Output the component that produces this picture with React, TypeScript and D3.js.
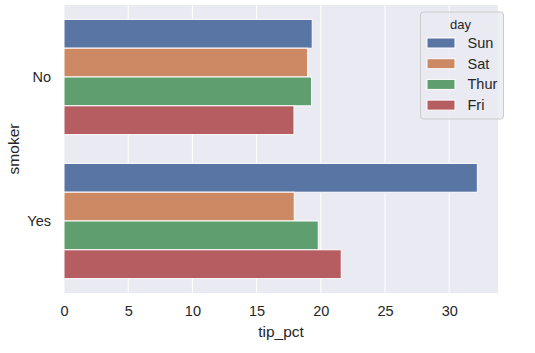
import { useEffect, useRef } from "react";
import * as d3 from "d3";

const smokers = ["No", "Yes"];
const days = ["Sun", "Sat", "Thur", "Fri"];
const dayColors = ["#5875a4", "#cc8963", "#5f9e6e", "#b55d60"];
// tip_pct by smoker, in the order of `days`
const tipNo = [19.33, 18.97, 19.28, 17.91];
const tipYes = [32.19, 17.93, 19.8, 21.59];
const xTicks = [0, 5, 10, 15, 20, 25, 30];

const App = () => {
    const svgRef = useRef<SVGSVGElement>(null);

    useEffect(() => {
        const W = 535;
        const H = 353;
        const margin = { top: 5, right: 37, bottom: 60, left: 64 };
        const width = W - margin.left - margin.right;
        const height = H - margin.top - margin.bottom;
        const font = "'Liberation Sans', Arial, sans-serif";

        const root = d3.select(svgRef.current);
        root.selectAll("*").remove();
        root.attr("width", W).attr("height", H);

        const svg = root
            .append("g")
            .attr("transform", `translate(${margin.left},${margin.top})`);

        const values = [tipNo, tipYes];
        const maxV = d3.max(values.flat()) as number;

        const x = d3.scaleLinear().domain([0, maxV * 1.05]).range([0, width]);
        const y = d3.scaleBand().domain(smokers).range([0, height]).paddingInner(0.2).paddingOuter(0.1);
        const inner = d3.scaleBand().domain(days).range([0, y.bandwidth()]);

        // background
        svg.append("rect")
            .attr("width", width)
            .attr("height", height)
            .attr("fill", "#eaeaf2");

        // grid
        svg.selectAll("line.grid")
            .data(xTicks)
            .join("line")
            .attr("class", "grid")
            .attr("x1", (d) => x(d))
            .attr("x2", (d) => x(d))
            .attr("y1", 0)
            .attr("y2", height)
            .attr("stroke", "#fff")
            .attr("stroke-width", 1);

        // bars
        smokers.forEach((s, i) => {
            svg.append("g")
                .selectAll("rect")
                .data(values[i])
                .join("rect")
                .attr("x", x(0))
                .attr("y", (_, j) => (y(s) as number) + (inner(days[j]) as number))
                .attr("width", (d) => x(d) - x(0))
                .attr("height", inner.bandwidth())
                .attr("fill", (_, j) => dayColors[j])
                .attr("stroke", "#fff")
                .attr("stroke-width", 1);
        });

        // x axis
        const xAxis = svg.append("g")
            .attr("transform", `translate(0,${height})`)
            .call(d3.axisBottom(x).tickValues(xTicks).tickSize(0).tickPadding(13));
        xAxis.select(".domain").remove();
        xAxis.selectAll("text")
            .attr("fill", "#262626")
            .style("font-family", font)
            .style("font-size", "14.5px");

        // y axis
        const yAxis = svg.append("g")
            .call(d3.axisLeft(y).tickSize(0).tickPadding(13));
        yAxis.select(".domain").remove();
        yAxis.selectAll("text")
            .attr("fill", "#262626")
            .style("font-family", font)
            .style("font-size", "14.5px");

        // axis labels
        svg.append("text")
            .attr("x", width / 2)
            .attr("y", height + 44)
            .attr("text-anchor", "middle")
            .attr("fill", "#262626")
            .style("font-family", font)
            .style("font-size", "15.5px")
            .text("tip_pct");

        svg.append("text")
            .attr("transform", `translate(${-45},${height / 2}) rotate(-90)`)
            .attr("text-anchor", "middle")
            .attr("fill", "#262626")
            .style("font-family", font)
            .style("font-size", "15.5px")
            .text("smoker");

        // legend
        const lg = svg.append("g").attr("transform", `translate(${420.5 - margin.left},${12 - margin.top})`);
        lg.append("rect")
            .attr("width", 83)
            .attr("height", 107)
            .attr("rx", 3)
            .attr("fill", "#eaeaf2")
            .attr("fill-opacity", 0.8)
            .attr("stroke", "#cccccc")
            .attr("stroke-width", 1);
        lg.append("text")
            .attr("x", 40)
            .attr("y", 17)
            .attr("text-anchor", "middle")
            .attr("fill", "#262626")
            .style("font-family", font)
            .style("font-size", "13px")
            .text("day");
        const items = lg.selectAll("g.item")
            .data(days)
            .join("g")
            .attr("class", "item")
            .attr("transform", (_, i) => `translate(0,${31 + i * 20.7})`);
        items.append("rect")
            .attr("x", 6.5)
            .attr("y", -5)
            .attr("width", 28)
            .attr("height", 10)
            .attr("fill", (_, i) => dayColors[i])
            .attr("stroke", "#fff")
            .attr("stroke-width", 1);
        items.append("text")
            .attr("x", 47)
            .attr("y", 0)
            .attr("dy", "0.35em")
            .attr("fill", "#262626")
            .style("font-family", font)
            .style("font-size", "14.5px")
            .text((d) => d);
    }, []);

    return <svg ref={svgRef} style={{ position: "absolute", left: 0, top: 0 }}></svg>;
};

export default App;
